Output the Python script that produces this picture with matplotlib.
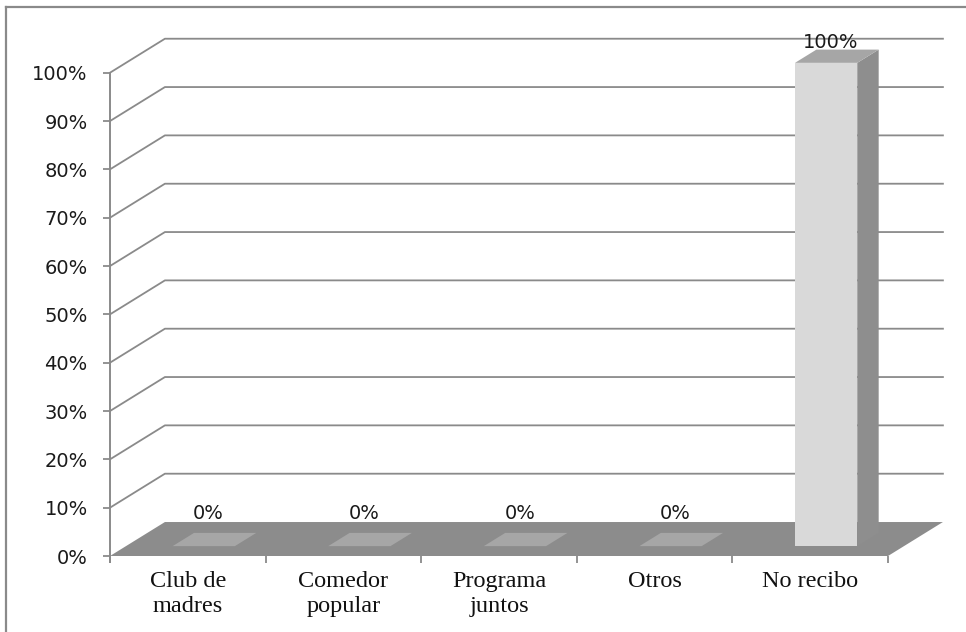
import matplotlib.pyplot as plt
from matplotlib.patches import Polygon
from matplotlib.lines import Line2D
import numpy as np

categories = ['Club de\nmadres', 'Comedor\npopular', 'Programa\njuntos', 'Otros', 'No recibo']
values = [0, 0, 0, 0, 100]
value_labels = ['0%', '0%', '0%', '0%', '100%']
yticks = list(range(0, 101, 10))

GRID = '#8a8a8a'
FLOOR = '#8c8c8c'
FRONT = '#d9d9d9'
SIDE = '#8e8e8e'
TOP = '#a6a6a6'

# fake 3d depth (data units)
DX = 0.353
DY = 7.03
D0, D1 = 0.29, 0.68
HALF = 0.2


def face(ax, pts, color, z):
    ax.add_patch(Polygon(pts, closed=True, facecolor=color, edgecolor='none',
                         clip_on=False, zorder=z))


def main():
    fig = plt.figure(figsize=(9.66, 6.32), dpi=100)
    ax = fig.add_axes([110 / 966, 76 / 632, 778 / 966, 483.3 / 632])
    ax.set_xlim(0, len(categories))
    ax.set_ylim(0, 100)
    ax.patch.set_alpha(0)

    # back wall gridlines
    for v in yticks[1:]:
        ax.plot([0, DX, len(categories) + DX], [v, v + DY, v + DY],
                color=GRID, lw=1.3, clip_on=False, zorder=1)

    # floor
    n = len(categories)
    face(ax, [(0, 0), (n, 0), (n + DX, DY), (DX, DY)], FLOOR, 2)

    for i, v in enumerate(values):
        c = i + 0.5
        x0 = c - HALF
        x1 = c + HALF
        fx, fy = D0 * DX, D0 * DY
        bx, by = D1 * DX, D1 * DY
        if v > 0:
            # side face
            face(ax, [(x1 + fx, fy), (x1 + bx, by), (x1 + bx, v + by), (x1 + fx, v + fy)], SIDE, 3)
            # front face
            face(ax, [(x0 + fx, fy), (x1 + fx, fy), (x1 + fx, v + fy), (x0 + fx, v + fy)], FRONT, 4)
        # top face
        face(ax, [(x0 + fx, v + fy), (x1 + fx, v + fy), (x1 + bx, v + by), (x0 + bx, v + by)], TOP, 4)
        ax.text(c + 0.38 * DX, max(v + by, DY + 0.3) - 0.6, value_labels[i],
                ha='center', va='bottom', fontsize=14, family='DejaVu Sans',
                color='#1a1a1a', zorder=6)

    # axes styling
    for s in ['top', 'right', 'bottom']:
        ax.spines[s].set_visible(False)
    ax.spines['left'].set_color(GRID)
    ax.spines['left'].set_linewidth(1.4)
    ax.spines['left'].set_bounds(-1.2, 100)

    ax.set_yticks(yticks)
    ax.set_yticklabels([f'{t}%' for t in yticks])
    ax.tick_params(axis='y', length=5, width=1.3, color=GRID, pad=11,
                   labelsize=14, labelcolor='#1a1a1a')

    ax.set_xticks(np.arange(n + 1))
    ax.set_xticklabels([])
    ax.set_xticks(np.arange(n) + 0.5, minor=True)
    ax.set_xticklabels(categories, minor=True, family='Liberation Serif',
                       fontsize=17.5, linespacing=1.22, color='#111111')
    ax.tick_params(axis='x', which='major', length=5, width=1.3, color=GRID)
    ax.tick_params(axis='x', which='minor', length=0, pad=11)

    # outer frame (top and left only visible)
    fig.add_artist(Line2D([6 / 966, 1], [1 - 6.5 / 632, 1 - 6.5 / 632],
                          transform=fig.transFigure, color=GRID, lw=1.6))
    fig.add_artist(Line2D([6 / 966, 6 / 966], [0, 1 - 6.5 / 632],
                          transform=fig.transFigure, color=GRID, lw=1.6))

    fig.savefig('out.png', dpi=100)
    plt.close(fig)


if __name__ == '__main__':
    main()
